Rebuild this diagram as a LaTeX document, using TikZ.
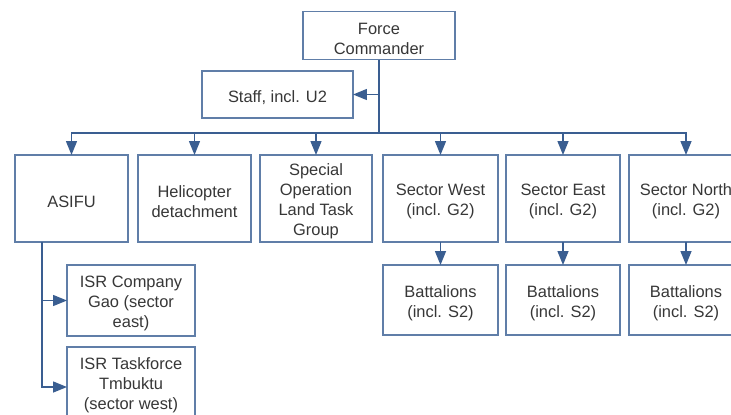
\documentclass[tikz,border=0pt]{standalone}
\usepackage{fontspec}
\setmainfont{Liberation Sans}
\usetikzlibrary{arrows.meta}
\definecolor{boxc}{RGB}{96,126,168}
\definecolor{linec}{RGB}{58,94,145}
\definecolor{txtc}{RGB}{55,55,55}
\newcommand\topstrut{\rule{0pt}{18bp}}
\tikzset{
  box/.style={draw=boxc,line width=1.8bp,fill=white,align=center,text=txtc,
    font=\fontsize{16.5}{20}\selectfont,inner sep=0pt,outer sep=0pt,
    minimum width=#1},
  box/.default=114bp,
  conn/.style={draw=linec,line width=1.4bp},
  arr/.style={conn,arrows={-Triangle[length=14pt,width=11pt]}}}
\begin{document}
\begin{tikzpicture}[x=1bp,y=-1bp]
\useasboundingbox (0,0) rectangle (731,414);
\clip (0,0) rectangle (731,414);
\fill[white] (0,0) rectangle (731,414);
\node[box=152bp,minimum height=48bp] (fc) at (379,35.5) {\topstrut Force\\Commander};
\node[box=151bp,minimum height=47bp] (staff) at (277.5,94.5) {\topstrut Staff, incl. U2};
\node[box=113bp,minimum height=87bp] (asifu) at (71.5,198.5) {\topstrut ASIFU};
\node[box=113bp,minimum height=87bp] (heli) at (194.5,198.5) {\topstrut Helicopter\\detachment};
\node[box=112bp,minimum height=87bp] (sol) at (316,198.5) {\topstrut Special\\Operation\\Land Task\\Group};
\node[box=115bp,minimum height=87bp] (west) at (440.5,198.5) {\topstrut Sector West\\(incl. G2)};
\node[box=114bp,minimum height=87bp] (east) at (563,198.5) {\topstrut Sector East\\(incl. G2)};
\node[box=114bp,minimum height=87bp] (north) at (686,198.5) {\topstrut Sector North\\(incl. G2)};
\node[box=115bp,minimum height=70bp] (bw) at (440.5,300) {\topstrut Battalions\\(incl. S2)};
\node[box=114bp,minimum height=70bp] (be) at (563,300) {\topstrut Battalions\\(incl. S2)};
\node[box=114bp,minimum height=70bp] (bn) at (686,300) {\topstrut Battalions\\(incl. S2)};
\node[box=128bp,minimum height=71bp] (isr1) at (131,300.5) {\topstrut ISR Company\\Gao (sector\\east)};
\node[box=128bp,minimum height=70bp] (isr2) at (131,382) {\topstrut ISR Taskforce\\Tmbuktu\\(sector west)};
\coordinate (bus) at (379,133);
\coordinate (asl) at (42,242);
\draw[conn] (fc.south) -- (bus);
\draw[arr] (fc.south |- staff.east) -- (staff.east);
\draw[arr] (bus) -| (asifu.north);
\draw[arr] (bus) -| (heli.north);
\draw[arr] (bus) -| (sol.north);
\draw[arr] (bus) -| (west.north);
\draw[arr] (bus) -| (east.north);
\draw[arr] (bus) -| (north.north);
\draw[arr] (west.south) -- (bw.north);
\draw[arr] (east.south) -- (be.north);
\draw[arr] (north.south) -- (bn.north);
\draw[arr] (asl) |- (isr1.west);
\draw[arr] (asl) |- ([yshift=-5bp]isr2.west);
\end{tikzpicture}
\end{document}
